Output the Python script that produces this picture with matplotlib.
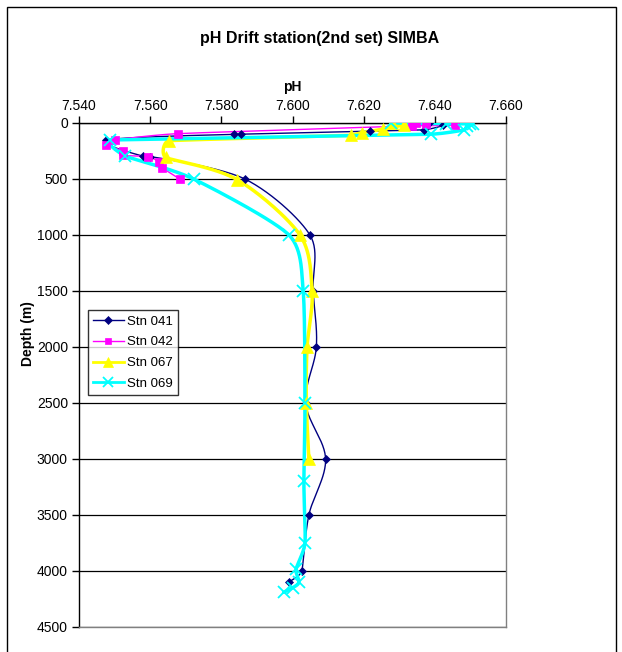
import numpy as np
import matplotlib
matplotlib.use("Agg")
import matplotlib.pyplot as plt
from matplotlib.lines import Line2D
from matplotlib.patches import Rectangle
from matplotlib.ticker import FormatStrFormatter

plt.rcParams['font.family'] = ['Liberation Sans', 'DejaVu Sans']

# --- station profiles: pH vs depth (m) ---
stn041_ph = [7.6384, 7.6422, 7.6370, 7.6217, 7.5854, 7.5837, 7.5477, 7.5581, 7.5600,
             7.5866, 7.6049, 7.6058, 7.6067, 7.6037, 7.6093, 7.6046, 7.6026, 7.5989]
stn041_depth = [3, 20, 60, 72, 100, 101, 152, 298, 300,
                500, 1000, 1500, 2000, 2500, 3000, 3500, 4000, 4100]

stn042_ph = [7.6348, 7.6375, 7.6457, 7.6337, 7.5677, 7.5501, 7.5477, 7.5523, 7.5525,
             7.5595, 7.5625, 7.5634, 7.5683]
stn042_depth = [0, 5, 20, 25, 95, 150, 192, 248, 290,
                300, 350, 400, 500]

stn067_ph = [7.6280, 7.6312, 7.6253, 7.6196, 7.6163, 7.5653, 7.5644, 7.5844,
             7.6021, 7.6055, 7.6041, 7.6039, 7.6046]
stn067_depth = [2, 15, 55, 85, 110, 158, 308, 505,
                1000, 1500, 2000, 2500, 3000]

stn069_ph = [7.6277, 7.6430, 7.6500, 7.6506, 7.6490, 7.6483, 7.6389, 7.5487, 7.5530,
             7.5722, 7.5990, 7.6030, 7.6035, 7.6032, 7.6035, 7.6010, 7.6018, 7.6000, 7.5975]
stn069_depth = [0, 5, 8, 12, 30, 62, 100, 152, 295,
                500, 1000, 1500, 2500, 3200, 3750, 3985, 4100, 4150, 4190]

station_names = ['Stn 041', 'Stn 042', 'Stn 067', 'Stn 069']
x_ticks = [7.540, 7.560, 7.580, 7.600, 7.620, 7.640, 7.660]
y_ticks = [0, 500, 1000, 1500, 2000, 2500, 3000, 3500, 4000, 4500]

W, H = 622, 652
fig = plt.figure(figsize=(W / 100, H / 100), dpi=100)
ax = fig.add_axes([79 / W, 25 / H, 427 / W, 504 / H])

ax.set_xlim(7.540, 7.660)
ax.set_ylim(4500, 0)


def smooth_path(x, y):
    """Bezier smoothing through the points, computed in screen space,
    with handle lengths limited so sharp turns do not overshoot."""
    pts = ax.transData.transform(np.column_stack([x, y]))
    n = len(pts)

    def tangent(i):
        a = pts[i - 1] if i > 0 else pts[i]
        b = pts[i + 1] if i < n - 1 else pts[i]
        d = b - a
        nd = np.hypot(*d)
        if nd == 0:
            return np.zeros(2), 0.0
        lens = []
        if i > 0:
            lens.append(np.hypot(*(pts[i] - pts[i - 1])))
        if i < n - 1:
            lens.append(np.hypot(*(pts[i + 1] - pts[i])))
        h = min(nd / 6.0, min(lens) / 3.0)
        return d / nd, h

    t = np.linspace(0, 1, 30)[:, None]
    segs = []
    for i in range(n - 1):
        p1, p2 = pts[i], pts[i + 1]
        u1, h1 = tangent(i)
        u2, h2 = tangent(i + 1)
        c1 = p1 + u1 * h1
        c2 = p2 - u2 * h2
        seg = ((1 - t) ** 3) * p1 + 3 * ((1 - t) ** 2) * t * c1 \
            + 3 * (1 - t) * t ** 2 * c2 + t ** 3 * p2
        segs.append(seg if i == 0 else seg[1:])
    path = np.vstack(segs)
    out = ax.transData.inverted().transform(path)
    return out[:, 0], out[:, 1]


series = [
    (stn041_ph, stn041_depth, '#000080', 1.0, 'D', 4.5, 0.5),
    (stn042_ph, stn042_depth, '#FF00FF', 1.0, 's', 5.5, 0.5),
    (stn067_ph, stn067_depth, '#FFFF00', 2.5, '^', 9, 0.5),
    (stn069_ph, stn069_depth, '#00FFFF', 2.5, 'x', 8, 1.3),
]

handles = []
for (ph, dep, col, lw, mk, ms, mew), name in zip(series, station_names):
    sx, sy = smooth_path(ph, dep)
    ax.plot(sx, sy, color=col, lw=lw, solid_capstyle='round',
            solid_joinstyle='round', zorder=3)
    ax.plot(ph, dep, linestyle='none', marker=mk, ms=ms, color=col,
            mfc=col, mec=col, mew=mew, zorder=4)
    handles.append(Line2D([], [], color=col, lw=1.0 if lw < 2 else 2.0,
                          marker=mk, ms=ms * 0.85, mfc=col, mec=col, mew=mew,
                          label=name))

# axes styling
ax.xaxis.tick_top()
ax.xaxis.set_label_position('top')
ax.set_xticks(x_ticks)
ax.xaxis.set_major_formatter(FormatStrFormatter('%.3f'))
ax.set_yticks(y_ticks)
ax.yaxis.set_major_formatter(FormatStrFormatter('%d'))
ax.tick_params(axis='both', direction='out', length=5, width=1, labelsize=10,
               color='black')
ax.tick_params(axis='x', pad=2)
ax.tick_params(axis='y', pad=3)

ax.grid(axis='y', color='black', lw=0.9)
ax.grid(axis='x', visible=False)
ax.set_axisbelow(True)

ax.spines['left'].set_color('black')
ax.spines['top'].set_color('black')
ax.spines['right'].set_color('#808080')
ax.spines['bottom'].set_color('#808080')
for s in ax.spines.values():
    s.set_linewidth(1.0)

ax.set_xlabel('pH', fontsize=10, fontweight='bold', labelpad=6)
ax.set_ylabel('Depth (m)', fontsize=10, fontweight='bold')
ax.yaxis.set_label_coords((35 - 79) / 427, (627 - 334) / 504)

fig.text(320 / W, 1 - 39 / H, 'pH Drift station(2nd set) SIMBA', ha='center',
         va='center', fontsize=11.5, fontweight='bold')

leg = ax.legend(handles=handles, loc='upper left',
                bbox_to_anchor=((88 - 79) / 427, (627 - 310) / 504),
                fontsize=9.5, frameon=True, fancybox=False, borderpad=0.4,
                labelspacing=0.65, handlelength=2.3, handletextpad=0.25,
                borderaxespad=0)
leg.get_frame().set_edgecolor('black')
leg.get_frame().set_linewidth(1.0)

# chart-area border
fig.patches.append(Rectangle((7 / W, -0.05), (616 - 7) / W, 1 - 7 / H + 0.05,
                             transform=fig.transFigure, fill=False,
                             edgecolor='black', lw=1.0))

fig.savefig('out.png', dpi=100)
